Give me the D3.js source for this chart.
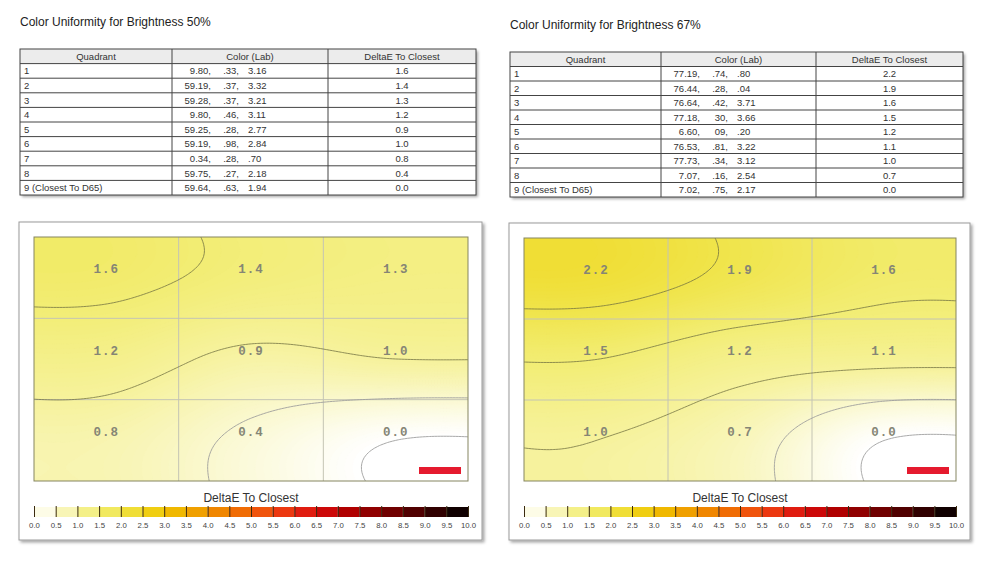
<!DOCTYPE html>
<html>
<head>
<meta charset="utf-8">
<script src="https://cdn.jsdelivr.net/npm/d3@7"></script>
<style>
  html, body { margin: 0; padding: 0; background: #fff; }
  svg { display: block; font-family: Arial, "Liberation Sans", sans-serif; }
  .title { font-size: 12px; fill: #222; }
  .tbl text { font-size: 9.5px; fill: #333; }
  .cell-label { font-family: "Liberation Mono", "DejaVu Sans Mono", monospace; font-size: 12.5px; font-weight: bold; fill: #858575; letter-spacing: 1px; }
  .cbar-title { font-size: 12px; fill: #333; }
  .cbar .tick text { font-size: 7.8px; fill: #444; }
</style>
</head>
<body>
<div id="chart"></div>
<script>
// ---- data ----
var headers = ["Quadrant", "Color (Lab)", "DeltaE To Closest"];
var quadrants = ["1", "2", "3", "4", "5", "6", "7", "8", "9 (Closest To D65)"];

var labL50 = ["9.80", "59.19", "59.28", "9.80", "59.25", "59.19", "0.34", "59.75", "59.64"];
var labA50 = [".33", ".37", ".37", ".46", ".28", ".98", ".28", ".27", ".63"];
var labB50 = ["3.16", "3.32", "3.21", "3.11", "2.77", "2.84", ".70", "2.18", "1.94"];
var deltaE50 = [1.6, 1.4, 1.3, 1.2, 0.9, 1.0, 0.8, 0.4, 0.0];

var labL67 = ["77.19", "76.44", "76.64", "77.18", "6.60", "76.53", "77.73", "7.07", "7.02"];
var labA67 = [".74", ".28", ".42", "30", "09", ".81", ".34", ".16", ".75"];
var labB67 = [".80", ".04", "3.71", "3.66", ".20", "3.22", "3.12", "2.54", "2.17"];
var deltaE67 = [2.2, 1.9, 1.6, 1.5, 1.2, 1.1, 1.0, 0.7, 0.0];

var contourLevels = [0.0, 0.5, 1.0, 1.5, 2.0];
var colorStops = [0, 0.5, 1, 1.5, 2, 2.5, 3, 3.5, 4, 4.5, 5, 5.5, 6, 6.5, 7, 7.5, 8, 8.5, 9, 9.5, 10];
var colorValues = ["#ffffff", "#faf8cf", "#f6f29c", "#f2ed74", "#f0e44a", "#f0d822", "#f0c400", "#f0ac00",
                   "#f09400", "#f07800", "#f06008", "#f04810", "#e82810", "#d81010", "#c00000", "#a00000",
                   "#800000", "#600000", "#400000", "#200000", "#000000"];

var W = 1000, H = 563;
var color = d3.scaleLinear().domain(colorStops).range(colorValues).clamp(true);

var svg = d3.select("#chart").append("svg").attr("width", W).attr("height", H);

var defs = svg.append("defs");
var shadow = defs.append("filter").attr("id", "shadow")
  .attr("x", "-5%").attr("y", "-5%").attr("width", "115%").attr("height", "115%");
shadow.append("feDropShadow").attr("dx", 2).attr("dy", 2).attr("stdDeviation", 1.5)
  .attr("flood-color", "#000").attr("flood-opacity", 0.35);

//////////////////////////////////
function drawTable(g, t, L, A, B, dE) {
  var rows = quadrants.map(function(q, i) { return { q: q, L: L[i], a: A[i], b: B[i], d: dE[i] }; });
  var rowH = t.height / (rows.length + 1);
  var cols = t.cols; // x boundaries
  var tg = g.append("g").attr("class", "tbl");

  tg.append("rect").attr("x", cols[0]).attr("y", t.y).attr("width", cols[3] - cols[0]).attr("height", t.height)
    .attr("fill", "#fff").attr("filter", "url(#shadow)");
  tg.append("rect").attr("x", cols[0]).attr("y", t.y).attr("width", cols[3] - cols[0]).attr("height", rowH)
    .attr("fill", "#ececec");

  tg.selectAll("text.hdr").data(headers).enter().append("text")
    .attr("class", "hdr")
    .attr("x", function(h, i) { return (cols[i] + cols[i + 1]) / 2; })
    .attr("y", t.y + rowH / 2 + 3.5)
    .attr("text-anchor", "middle")
    .text(function(h) { return h; });

  var rg = tg.selectAll("g.row").data(rows).enter().append("g")
    .attr("class", "row")
    .attr("transform", function(r, i) { return "translate(0," + (t.y + rowH * (i + 1) + rowH / 2 + 3.5) + ")"; });
  rg.append("text").attr("x", cols[0] + 4).text(function(r) { return r.q; });
  rg.append("text").attr("x", cols[1] + 39).attr("text-anchor", "end").text(function(r) { return r.L + ","; });
  rg.append("text").attr("x", cols[1] + 67).attr("text-anchor", "end").text(function(r) { return r.a + ","; });
  rg.append("text").attr("x", cols[1] + 76).text(function(r) { return r.b; });
  rg.append("text").attr("x", (cols[2] + cols[3]) / 2).attr("text-anchor", "middle")
    .text(function(r) { return r.d.toFixed(1); });

  // grid lines
  var lines = tg.append("g").attr("stroke", "#444").attr("stroke-width", 1).attr("fill", "none");
  d3.range(1, rows.length + 1).forEach(function(i) {
    lines.append("line").attr("x1", cols[0]).attr("x2", cols[3])
      .attr("y1", t.y + rowH * i).attr("y2", t.y + rowH * i);
  });
  [1, 2].forEach(function(i) {
    lines.append("line").attr("x1", cols[i]).attr("x2", cols[i]).attr("y1", t.y).attr("y2", t.y + t.height);
  });
  lines.append("rect").attr("x", cols[0]).attr("y", t.y).attr("width", cols[3] - cols[0]).attr("height", t.height);
}

//////////////////////////////////
// Catmull-Rom through the 3 cell centres (at 0.5, 1.5, 2.5), edges replicated
function catmull(vals, u) {
  var s = u - 0.5, k = Math.floor(s), t = s - k;
  function v(i) { return vals[Math.max(0, Math.min(vals.length - 1, i))]; }
  var p0 = v(k - 1), p1 = v(k), p2 = v(k + 1), p3 = v(k + 2);
  return 0.5 * (2 * p1 + (p2 - p0) * t + (2 * p0 - 5 * p1 + 4 * p2 - p3) * t * t +
                (3 * p1 - p0 - 3 * p2 + p3) * t * t * t);
}
function surface(dE, cx, cy) {
  var r = [0, 1, 2].map(function(row) { return catmull(dE.slice(row * 3, row * 3 + 3), cx); });
  return catmull(r, cy);
}

function drawHeatmap(g, p, dE, id) {
  var x = d3.scaleLinear().domain([0, 3]).range([p.x0, p.x1]);
  var y = d3.scaleLinear().domain([0, 3]).range([p.y0, p.y1]);
  var step = 3, pad = 6;
  var nx = Math.ceil((p.x1 - p.x0 + 2 * pad) / step), ny = Math.ceil((p.y1 - p.y0 + 2 * pad) / step);
  var values = new Array(nx * ny);
  for (var j = 0; j < ny; j++) {
    for (var i = 0; i < nx; i++) {
      var px = p.x0 - pad + (i + 0.5) * step, py = p.y0 - pad + (j + 0.5) * step;
      values[j * nx + i] = surface(dE, x.invert(px), y.invert(py));
    }
  }
  var ext = d3.extent(values);
  var proj = d3.geoIdentity().scale(step).translate([p.x0 - pad, p.y0 - pad]);
  var path = d3.geoPath(proj);

  defs.append("clipPath").attr("id", "clip" + id).append("rect")
    .attr("x", p.x0).attr("y", p.y0).attr("width", p.x1 - p.x0).attr("height", p.y1 - p.y0);

  var hg = g.append("g").attr("clip-path", "url(#clip" + id + ")");
  var bandStep = 0.025;
  var bands = d3.range(Math.floor(ext[0] / bandStep) * bandStep, ext[1], bandStep);
  hg.append("rect").attr("x", p.x0).attr("y", p.y0).attr("width", p.x1 - p.x0).attr("height", p.y1 - p.y0)
    .attr("fill", color(Math.max(0, ext[0])));
  hg.selectAll("path.band")
    .data(d3.contours().size([nx, ny]).thresholds(bands)(values))
    .enter().append("path")
    .attr("class", "band")
    .attr("d", path)
    .attr("fill", function(c) { return color(Math.max(0, c.value + bandStep / 2)); })
    .attr("stroke", function(c) { return color(Math.max(0, c.value + bandStep / 2)); })
    .attr("stroke-width", 0.6);

  // cell grid
  hg.selectAll("line.gx").data([1, 2]).enter().append("line")
    .attr("x1", x).attr("x2", x).attr("y1", p.y0).attr("y2", p.y1)
    .attr("stroke", "#c4c4b4").attr("stroke-width", 1);
  hg.selectAll("line.gy").data([1, 2]).enter().append("line")
    .attr("y1", y).attr("y2", y).attr("x1", p.x0).attr("x2", p.x1)
    .attr("stroke", "#c4c4b4").attr("stroke-width", 1);

  // contour lines
  hg.selectAll("path.iso")
    .data(d3.contours().size([nx, ny]).thresholds(contourLevels)(values))
    .enter().append("path")
    .attr("class", "iso")
    .attr("d", path)
    .attr("fill", "none")
    .attr("stroke", function(c) { return c.value < 0.75 ? "#9a9a9a" : "#6e6e40"; })
    .attr("stroke-opacity", function(c) { return c.value < 0.75 ? 0.85 : 0.75; })
    .attr("stroke-width", 1);

  // values
  g.selectAll("text.cell-label").data(dE).enter().append("text")
    .attr("class", "cell-label")
    .attr("x", function(d, i) { return x(i % 3 + 0.5); })
    .attr("y", function(d, i) { return y(Math.floor(i / 3) + 0.5) - 4.5; })
    .attr("text-anchor", "middle")
    .text(function(d) { return d.toFixed(1); });

  // closest marker
  g.append("rect").attr("x", p.x1 - 49).attr("y", p.y1 - 14).attr("width", 42).attr("height", 7)
    .attr("fill", "#e51a2e");

  g.append("rect").attr("x", p.x0).attr("y", p.y0).attr("width", p.x1 - p.x0).attr("height", p.y1 - p.y0)
    .attr("fill", "none").attr("stroke", "#858560").attr("stroke-width", 1);
}

//////////////////////////////////
function drawColorbar(g, p) {
  var cx = d3.scaleLinear().domain([0, 10]).range([p.x0, p.x1]);
  var by = p.y1 + 26, bh = 10;
  g.append("text").attr("class", "cbar-title")
    .attr("x", (p.x0 + p.x1) / 2).attr("y", p.y1 + 21).attr("text-anchor", "middle")
    .text("DeltaE To Closest");
  g.selectAll("rect.seg").data(d3.range(0, 10, 0.5)).enter().append("rect")
    .attr("class", "seg")
    .attr("x", function(v) { return cx(v); })
    .attr("width", function(v) { return cx(v + 0.5) - cx(v); })
    .attr("y", by).attr("height", bh)
    .attr("fill", function(v) { return color(v + 0.25); });
  var axis = d3.axisBottom(cx).tickValues(d3.range(0, 10.01, 0.5))
    .tickFormat(d3.format(".1f")).tickSizeInner(-bh - 1).tickSizeOuter(0).tickPadding(5);
  var ag = g.append("g").attr("class", "cbar").attr("transform", "translate(0," + (by + bh) + ")").call(axis);
  ag.select(".domain").remove();
  ag.selectAll(".tick line").attr("stroke", "#3a2a10").attr("stroke-width", 1);
}

//////////////////////////////////
var panels = [
  { title: "Color Uniformity for Brightness 50%", tx: 20, ty: 26,
    table: { y: 49, height: 146, cols: [20, 172, 328, 476] },
    box: { x0: 19, y0: 222, x1: 482, y1: 540 },
    plot: { x0: 34, y0: 237, x1: 468, y1: 481 },
    L: labL50, A: labA50, B: labB50, dE: deltaE50 },
  { title: "Color Uniformity for Brightness 67%", tx: 510, ty: 29,
    table: { y: 52, height: 145, cols: [510, 661, 816, 963] },
    box: { x0: 509, y0: 223, x1: 970, y1: 540 },
    plot: { x0: 524, y0: 238, x1: 956, y1: 481 },
    L: labL67, A: labA67, B: labB67, dE: deltaE67 }
];

panels.forEach(function(pn, k) {
  var g = svg.append("g");
  g.append("text").attr("class", "title").attr("x", pn.tx).attr("y", pn.ty).text(pn.title);
  drawTable(g, pn.table, pn.L, pn.A, pn.B, pn.dE);
  g.append("rect").attr("x", pn.box.x0).attr("y", pn.box.y0)
    .attr("width", pn.box.x1 - pn.box.x0).attr("height", pn.box.y1 - pn.box.y0)
    .attr("fill", "#fff").attr("stroke", "#9a9a9a").attr("filter", "url(#shadow)");
  drawHeatmap(g, pn.plot, pn.dE, k);
  drawColorbar(g, pn.plot);
});
</script>
</body>
</html>
